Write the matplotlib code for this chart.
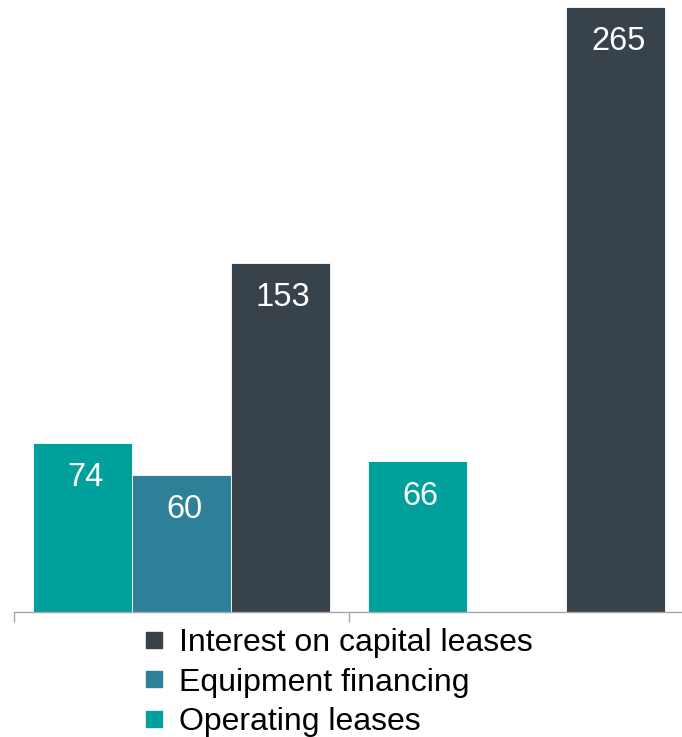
import numpy as np
import matplotlib
matplotlib.use("Agg")
import matplotlib.pyplot as plt
from matplotlib.lines import Line2D

plt.rcParams['font.family'] = ['Liberation Sans', 'DejaVu Sans']

groups = ["2016", "2017"]
series_names = ["Operating leases", "Equipment financing", "Interest on capital leases"]
operating_leases = [74, 66]
equipment_financing = [60, np.nan]
interest_capital = [153, 265]
colors = ["#00A19D", "#2E8099", "#37424A"]

W, H, DPI = 682, 737, 100
fig = plt.figure(figsize=(W / DPI, H / DPI), dpi=DPI)
ax = fig.add_axes([14 / W, (H - 612) / H, 670 / W, 612 / H])

x = np.arange(len(groups))
bw = 0.2955
values = [operating_leases, equipment_financing, interest_capital]
for i, (vals, c) in enumerate(zip(values, colors)):
    pos = x + (i - 1) * bw
    ax.bar(pos, vals, width=bw, color=c, edgecolor="white", linewidth=0.6)
    for xp, v in zip(pos, vals):
        if np.isnan(v):
            continue
        ax.annotate(f"{v:g}", (xp, v), xytext=(2, -14), textcoords="offset points",
                    ha="center", va="top", color="white", fontsize=23.5)

ax.set_xlim(-0.5, 1.5)
ax.set_ylim(0, 268)
ax.set_xticks([-0.5, 0.5, 1.5])
ax.set_xticklabels([])
ax.set_yticks([])
for s in ["top", "right", "left"]:
    ax.spines[s].set_visible(False)
ax.spines["bottom"].set_color("#A6A6A6")
ax.spines["bottom"].set_linewidth(1.0)
ax.tick_params(axis="x", direction="out", length=7.5, width=1.0, color="#A6A6A6")

handles = [Line2D([], [], marker="s", linestyle="none", markersize=11.5, color=c)
           for c in colors][::-1]
fig.legend(handles, series_names[::-1], loc="upper left",
           bbox_to_anchor=(144 / W, (H - 628) / H), frameon=False, fontsize=23,
           handlelength=0.6, handletextpad=0.5, labelspacing=0.3,
           borderpad=0, borderaxespad=0)

fig.savefig("out.png", dpi=DPI)
